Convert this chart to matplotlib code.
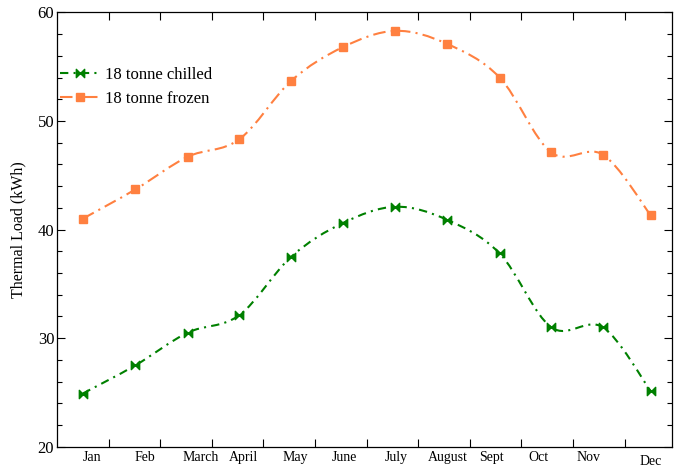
import numpy as np
import matplotlib
matplotlib.use('Agg')
import matplotlib.pyplot as plt
from matplotlib.path import Path
from matplotlib.patches import PathPatch
from matplotlib.lines import Line2D

plt.rcParams['font.family'] = ['Liberation Serif', 'DejaVu Serif']

months = ['Jan', 'Feb', 'March', 'April', 'May', 'June', 'July',
          'August', 'Sept', 'Oct', 'Nov', 'Dec']
# label positions along the month axis (as placed in the original)
month_label_x = [0.675, 1.705, 2.79, 3.62, 4.61, 5.58, 6.57, 7.57, 8.42, 9.33, 10.3, 11.5]
month_x = [0.5, 1.52, 2.53, 3.53, 4.54, 5.54, 6.56, 7.56, 8.58, 9.58, 10.58, 11.51]

chilled = [24.9, 27.5, 30.5, 32.1, 37.5, 40.6, 42.1, 40.9, 37.8, 31.0, 31.0, 25.1]
frozen = [41.0, 43.7, 46.7, 48.3, 53.7, 56.8, 58.3, 57.1, 54.0, 47.1, 46.9, 41.3]

GREEN = '#008000'
ORANGE = '#ff8040'

bowtie = Path([(-1, -1), (-1, 1), (0, 0), (-1, -1), (1, -1), (1, 1), (0, 0), (1, -1)],
              [Path.MOVETO, Path.LINETO, Path.LINETO, Path.CLOSEPOLY,
               Path.MOVETO, Path.LINETO, Path.LINETO, Path.CLOSEPOLY])


def smooth_path(x, y):
    # Catmull-Rom style Bezier segments through the points
    p = np.column_stack([x, y]).astype(float)
    pad = np.vstack([p[0], p, p[-1]])
    verts = [tuple(p[0])]
    codes = [Path.MOVETO]
    for i in range(len(p) - 1):
        c1 = pad[i + 1] + (pad[i + 2] - pad[i]) / 6.0
        c2 = pad[i + 2] - (pad[i + 3] - pad[i + 1]) / 6.0
        verts += [tuple(c1), tuple(c2), tuple(p[i + 1])]
        codes += [Path.CURVE4] * 3
    return Path(verts, codes)


fig = plt.figure(figsize=(6.74, 4.68), dpi=100)
ax = fig.add_axes([0.0846, 0.0455, 0.9124, 0.928])

series = [
    (chilled, GREEN, bowtie, 6, (0, (4, 2.5, 1, 2.5)), '18 tonne chilled'),
    (frozen, ORANGE, 's', 5.5, (0, (6, 2.5, 1, 2.5)), '18 tonne frozen'),
]
handles = []
for vals, col, mk, ms, ls, lab in series:
    patch = PathPatch(smooth_path(month_x, vals), facecolor='none', edgecolor=col,
                      linewidth=1.5, linestyle=ls, zorder=2)
    ax.add_patch(patch)
    ax.plot(month_x, vals, linestyle='none', marker=mk, markersize=ms,
            color=col, markeredgecolor=col, zorder=3)
    handles.append(Line2D([], [], color=col, linewidth=1.5, linestyle=ls,
                          marker=mk, markersize=ms, markeredgecolor=col, label=lab))

ax.set_xlim(0, 11.92)
ax.set_ylim(20, 60)
ax.set_xticks(range(1, 12))
ax.set_xticklabels([])
ax.set_yticks([20, 30, 40, 50, 60])
ax.set_yticks(np.arange(20, 61, 2), minor=True)
ax.tick_params(axis='both', which='both', direction='in', top=True, right=True,
               labelsize=12, width=0.8)
ax.tick_params(axis='both', which='major', length=6)
ax.tick_params(axis='y', which='minor', length=3.5)
ax.tick_params(axis='x', which='minor', length=0)
ax.tick_params(axis='y', pad=2)

for xl, m in zip(month_label_x, months):
    dy = -0.035 if m == 'Dec' else -0.025
    ax.text(xl, dy, m, transform=ax.get_xaxis_transform(), ha='center', va='center',
            fontsize=10)

ax.set_ylabel('Thermal Load (kWh)', fontsize=11.5, labelpad=8)

for s in ax.spines.values():
    s.set_linewidth(0.9)

ax.legend(handles=handles, loc='upper left', bbox_to_anchor=(0.0, 0.883),
          frameon=False, fontsize=12, handlelength=2.4, handletextpad=0.25,
          labelspacing=0.5, borderaxespad=0.0, borderpad=0.2, numpoints=1)

fig.savefig('out.png', dpi=100)
